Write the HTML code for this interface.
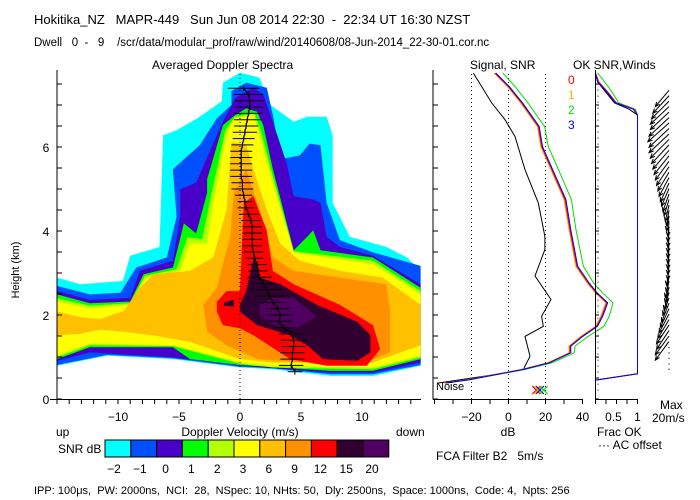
<!DOCTYPE html>
<html><head><meta charset="utf-8"><style>
html,body{margin:0;padding:0;background:#fff;}
svg{display:block;font-family:"Liberation Sans",sans-serif;}
text{font-size:12px;fill:#000;white-space:pre;}
</style></head><body>
<svg id="chart" width="700" height="500" viewBox="0 0 700 500" xml:space="preserve">
<text x="34" y="24" style="font-size:13px">Hokitika_NZ   MAPR-449   Sun Jun 08 2014 22:30  -  22:34 UT 16:30 NZST</text>
<text x="34" y="46" style="font-size:11.5px">Dwell   0  -   9    /scr/data/modular_prof/raw/wind/20140608/08-Jun-2014_22-30-01.cor.nc</text>
<text x="152" y="69">Averaged Doppler Spectra</text>
<text x="470" y="69">Signal, SNR</text>
<text x="573" y="69">OK SNR,Winds</text>
<g id="spectra"></g>
<g id="signal"></g>
<g id="frac"></g>
<g id="winds"></g>
<g id="axes"></g>
<text x="19" y="270" transform="rotate(-90 19 270)" text-anchor="middle" style="font-size:11px">Height (km)</text>
<text x="240" y="436" text-anchor="middle">Doppler Velocity (m/s)</text>
<text x="56" y="436">up</text>
<text x="396" y="436">down</text>
<text x="508" y="436" text-anchor="middle">dB</text>
<text x="597" y="436">Frac OK</text>
<text x="598" y="449">··· AC offset</text>
<text x="660" y="409">Max</text>
<text x="652" y="422">20m/s</text>
<text x="58" y="453">SNR dB</text>
<text x="436" y="460">FCA Filter B2   5m/s</text>
<text x="436" y="390" style="font-size:11px">Noise</text>
<text x="34" y="494" style="font-size:11px">IPP: 100μs,  PW: 2000ns,  NCI:  28,  NSpec: 10, NHts: 50,  Dly: 2500ns,  Space: 1000ns,  Code: 4,  Npts: 256</text>
<g id="colorbar"></g>
<text x="568" y="84" style="fill:#ff0000">0</text>
<text x="568" y="99" style="fill:#ffb000">1</text>
<text x="568" y="114" style="fill:#00e000">2</text>
<text x="568" y="129" style="fill:#0000ff">3</text>
</svg>
<script>
// ---------- data ----------
const levelNames = ["-2","-1","0","1","2","3","6","9","12","15","20"];
const levelColors = ["#00ffff","#0050ff","#4800c8","#00ff00","#b4ff00","#ffff00","#ffc000","#ff9000","#ff0000","#300030","#500060"];
const contourCyan = [[-15,0.79],[-15,2.89],[-13.1,2.73],[-9.6,2.81],[-9.0,3.41],[-6.6,3.62],[-6.3,6.28],[-5.2,6.40],[-3.5,6.68],[-1.5,7.09],[-1.4,7.53],[0,7.77],[1.6,7.65],[2.5,7.0],[4.4,6.60],[5.5,6.72],[7.1,6.72],[7.6,6.28],[7.6,4.67],[9.0,3.86],[12.0,3.62],[13.7,3.37],[14.8,3.05],[14.8,0.79],[10.9,0.55],[7.4,0.55],[2.7,0.71],[0,0.75],[-5.5,0.95],[-10.9,1.03],[-15,0.79]];
const contourBlue = [[-15,2.69],[-12.3,2.49],[-9.8,2.53],[-8.5,3.13],[-6.0,3.37],[-5.2,4.34],[-5.5,5.47],[-3.3,6.04],[-1.9,6.68],[-0.7,7.0],[-0.7,7.33],[0.5,7.53],[2.2,7.41],[2.7,6.76],[3.3,5.71],[4.9,5.80],[5.7,6.08],[6.6,6.04],[7.1,4.67],[8.2,3.78],[10.9,3.49],[14.8,3.17],[14.8,0.81],[10.9,0.59],[7.4,0.59],[2.7,0.73],[0,0.77],[-5.5,0.97],[-10.9,1.05],[-15,0.81]];
const contourIndigo = [[-15,2.57],[-12.3,2.36],[-9.0,2.41],[-8.2,3.05],[-5.5,3.29],[-4.9,4.34],[-4.9,4.99],[-3.6,5.15],[-2.5,5.88],[-1.4,6.60],[-0.8,6.92],[-0.4,7.17],[1.1,7.41],[1.9,7.25],[2.5,6.76],[3.8,5.63],[4.4,4.83],[6.0,4.75],[6.6,4.67],[7.1,3.86],[8.2,3.62],[10.9,3.41],[14.8,2.73],[14.8,0.87],[10.9,0.63],[7.4,0.63],[0,0.79],[-5.5,0.99],[-12.3,1.11],[-15,0.91]];
const contourGreen = [[-15,2.49],[-12.3,2.28],[-9.0,2.32],[-7.9,2.97],[-5.5,3.13],[-4.6,4.18],[-3.6,3.94],[-2.7,4.91],[-2.7,5.23],[-1.4,6.52],[-0.4,6.76],[0.5,6.92],[1.4,6.84],[1.9,6.52],[2.7,5.47],[4.4,3.54],[5.5,3.86],[6.0,4.02],[6.6,3.54],[10.9,3.37],[14.8,2.65],[14.8,0.95],[10.9,0.67],[7.4,0.67],[0,0.81],[-4.1,0.95],[-5.5,1.23],[-12.3,1.23],[-15,0.95]];
const contourLime = [[-15,2.40],[-12.3,2.22],[-9.0,2.28],[-7.8,2.93],[-5.2,3.09],[-4.3,3.85],[-3.1,3.80],[-2.4,4.80],[-1.2,6.40],[-0.4,6.72],[1.2,6.80],[1.7,6.40],[2.6,5.40],[4.4,3.52],[10.9,3.29],[14.8,2.57],[14.8,0.99],[10.9,0.71],[2.7,0.75],[0,0.84],[-5.5,1.26],[-12.3,1.28],[-15,0.99]];
const contourYellow = [[-15,2.32],[-12.3,2.16],[-9.0,2.24],[-7.7,2.89],[-4.9,3.05],[-4.1,3.70],[-2.7,3.70],[-2.2,4.67],[-1.1,6.28],[-0.5,6.68],[1.1,6.76],[1.6,6.28],[2.5,5.31],[4.4,3.49],[10.9,3.21],[14.8,2.49],[14.8,1.03],[10.9,0.75],[2.7,0.79],[0,0.87],[-5.5,1.28],[-12.3,1.32],[-15,1.03]];
const contourGold = [[-15,2.08],[-13.1,1.95],[-11.5,1.90],[-9.5,2.10],[-8.2,2.65],[-7.1,2.97],[-4.1,3.05],[-2.2,3.37],[-1.1,4.50],[-0.7,6.12],[0.5,6.04],[1.1,5.47],[2.2,4.50],[3.3,3.70],[4.9,3.29],[8.2,3.05],[11.7,2.89],[14.8,2.24],[14.8,1.28],[10.9,0.87],[2.7,0.87],[0,0.95],[-4.1,1.36],[-6.8,1.50],[-9.5,1.60],[-11.5,1.65],[-13.1,1.55],[-15,1.52]];
const contourOrange = [[-3.0,2.24],[-1.9,2.65],[-0.8,3.86],[-0.5,4.91],[0.5,5.47],[1.6,4.50],[2.7,3.37],[4.4,3.05],[8.2,2.89],[12.0,2.73],[12.3,2.08],[12.3,1.11],[9.6,0.79],[5.5,0.87],[1.4,0.95],[-1.1,1.28],[-2.7,1.60]];
const contourRed = [[-1.9,2.32],[-1.1,2.57],[0,2.57],[0.3,4.67],[1.1,4.83],[2.2,4.02],[2.7,3.05],[4.4,2.73],[8.2,2.24],[10.9,1.76],[11.5,1.19],[10.4,0.79],[7.1,0.79],[4.1,0.95],[1.1,1.52],[0,1.68],[-1.4,1.76],[-1.9,2.08]];
const contourDark = [[0,2.24],[0.5,2.57],[1.2,3.45],[1.6,2.89],[3.3,2.73],[6.3,2.24],[9.6,1.84],[10.7,1.52],[10.7,1.11],[9.6,0.91],[6.8,0.95],[5.5,1.28],[4.1,1.52],[1.4,1.76],[0,2.08]];
const contourDarkBlob = [[-1.3,2.30],[-0.5,2.36],[-0.5,2.20],[-1.3,2.22]];
const contourPurple = [[1.6,2.24],[2.7,2.41],[4.4,2.41],[6.3,1.96],[4.6,1.68],[2.7,1.76],[1.6,2.0]];
const contours = [contourCyan,contourBlue,contourIndigo,contourGreen,contourLime,contourYellow,contourGold,contourOrange,contourRed,contourDark,contourDarkBlob,contourPurple];
const contourLevel = [0,1,2,3,4,5,6,7,8,9,9,10];

const heights = [0.65,0.80,0.95,1.10,1.25,1.40,1.55,1.70,1.85,2.00,2.15,2.30,2.45,2.60,2.75,2.90,3.05,3.20,3.35,3.50,3.65,3.80,3.95,4.10,4.25,4.40,4.55,4.70,4.85,5.00,5.15,5.30,5.45,5.60,5.75,5.90,6.05,6.20,6.35,6.50,6.65,6.80,6.95,7.10,7.25,7.40];
const meanVel = [4.5,4.2,4.3,4.3,4.4,4.4,4.2,3.6,3.2,3.3,3.1,2.7,2.4,2.2,1.9,1.6,1.5,1.4,1.2,1.1,1.0,1.0,1.0,1.0,0.9,0.7,0.5,0.4,0.3,0.2,0.2,0.1,0.1,0.1,0.1,0.1,0.2,0.3,0.4,0.5,0.6,0.7,0.8,0.8,0.7,0.3];
const halfWidth = [0.6,1.0,1.0,1.0,1.0,1.1,1.0,1.0,1.0,1.1,1.0,1.0,1.2,1.3,1.0,1.0,0.8,0.8,0.7,0.8,0.8,0.8,0.8,0.8,0.8,0.8,0.7,0.6,0.7,0.9,0.9,0.9,0.9,0.9,0.9,0.9,0.9,0.9,1.0,1.0,1.1,1.2,1.2,1.2,1.2,1.3];

const sigHeightsBlack = [7.76,7.05,6.65,6.25,5.46,4.67,3.87,3.56,2.93,2.37,1.97,1.73,1.49,1.02,0.70,0.55,0.38];
const sigBlack = [-19.0,-9.1,-1.9,3.5,8.9,16.1,19.7,19.7,14.3,23.0,17.9,18.8,8.9,11.6,8.0,-12,-37.9];
const sigHeights = [7.76,7.44,7.05,6.49,6.01,5.46,4.75,4.03,3.16,2.76,2.52,2.29,1.97,1.73,1.49,1.26,1.10,0.86,0.70,0.46,0.38];
const sigCh0 = [-7.3,-0.1,7.1,16.1,17.9,23.4,30.5,33.2,36.9,43.1,47.6,53.1,50.4,47.6,39.6,33.2,33.2,21.5,7.1,-21.7,-34.3];
const sigCh1 = [-7.8,-0.6,6.6,15.6,17.4,22.9,30.0,32.7,36.4,42.6,47.1,52.6,49.9,47.1,39.1,32.7,32.7,21.0,6.6,-22.2,-34.8];
const sigCh2 = [-3.0,3.5,10.5,19.5,21.5,27.0,34.0,36.5,40.5,46.0,51.0,56.5,54.5,51.5,43.0,36.0,35.5,23.5,8.5,-21.0,-33.0];
const sigCh3 = [-6.8,0.4,7.6,16.6,18.4,23.9,31.0,33.7,37.4,43.6,48.1,53.6,50.9,48.1,40.1,33.7,33.7,22.0,7.6,-21.2,-33.8];

const fracHeights = [7.76,7.55,7.30,7.05,6.90,6.76,0.60,0.45];
const fracBlack = [0,0.05,0.25,0.45,0.80,1.0,1.0,0];
const fracCh0 = [0,0.08,0.30,0.50,0.92,1.0,1.0,0];
const fracCh2 = [0.05,0.22,0.40,0.55,0.95,1.0,1.0,0];
const fracCh3 = [0,0.05,0.28,0.48,0.90,1.0,1.0,0];

const windHeights = [7.35,7.22,7.09,6.96,6.83,6.70,6.57,6.44,6.31,6.18,6.05,5.92,5.79,5.66,5.53,5.40,5.27,5.14,5.01,4.88,4.75,4.62,4.49,4.36,4.23,4.10,3.97,3.84,3.71,3.58,3.45,3.32,3.19,3.06,2.93,2.80,2.67,2.54,2.41,2.28,2.15,2.02,1.89,1.76,1.63,1.50,1.37];
const windU = [-11,-13,-14,-15,-15,-16,-17,-16,-16,-15,-14,-13,-12,-11,-10,-9,-8,-7,-6,-5,-4,-3,-2,-2,-1,-1,-1,-1,-1,-1,-1,-1,-1,-2,-2,-3,-3,-4,-5,-6,-7,-8,-9,-10,-10,-11,-11];
const windV = [-13,-14,-14,-14,-14,-15,-15,-15,-15,-15,-15,-15,-15,-15,-15,-15,-15,-15,-14,-14,-13,-13,-12,-12,-12,-12,-12,-12,-12,-12,-12,-12,-12,-12,-13,-13,-13,-14,-14,-15,-15,-15,-15,-15,-15,-15,-15];
const calmHeights = [1.24,1.11,0.98,0.85,0.72];

const velTicks = [-10,-5,0,5,10];
const heightTicks = [0,2,4,6];
const dbTicks = [-20,0,20,40];
const fracTickLabels = ["0.5","1"];
const fracTickValues = [0.5,1];

// ---------- scales ----------
const xv = v => 240 + 12.2*v;
const yh = h => 399 - 42*h;
const xd = d => 508.5 + 1.85*d;
const xf = f => 595.5 + 42*f;
const NS = "http://www.w3.org/2000/svg";
function mk(tag, attrs, parent){const e=document.createElementNS(NS,tag);for(const k in attrs)e.setAttribute(k,attrs[k]);parent.appendChild(e);return e;}

// ---------- spectra ----------
const gS = document.getElementById('spectra');
const clip = mk('clipPath',{id:'clipS'},gS); mk('rect',{x:57,y:60,width:364,height:339},clip);
const gC = mk('g',{'clip-path':'url(#clipS)'},gS);
contours.forEach((poly,i)=>{
  const p = mk('polygon',{points:poly.map(q=>xv(q[0]).toFixed(1)+','+yh(q[1]).toFixed(1)).join(' '),fill:levelColors[contourLevel[i]]},gC);
  
  
});
const zl = mk('line',{x1:xv(0),x2:xv(0),y1:yh(0),y2:yh(7.8),stroke:'#000','stroke-dasharray':'1 3','stroke-width':1},gS);


let meanPts=[];
heights.forEach((h,i)=>{
  const y=yh(h), x=xv(meanVel[i]);
  const b = mk('line',{x1:xv(meanVel[i]-halfWidth[i]),x2:xv(meanVel[i]+halfWidth[i]),y1:y,y2:y,stroke:'#000','stroke-width':1},gS);
  
  
  const t = mk('line',{x1:x,x2:x,y1:y-3,y2:y+3,stroke:'#000','stroke-width':1},gS);
  
  
  meanPts.push(x.toFixed(1)+','+y.toFixed(1));
});
const ml = mk('polyline',{points:meanPts.join(' '),fill:'none',stroke:'#000','stroke-width':1},gS);



// ---------- signal ----------
const gG = document.getElementById('signal');
[-20,0,20].forEach(d=>{
  const l=mk('line',{x1:xd(d),x2:xd(d),y1:yh(0),y2:yh(7.8),stroke:'#000','stroke-dasharray':'1 3'},gG);
  
  
});
function sigLine(hs,vals,color,name){
  const p=mk('polyline',{points:hs.map((h,i)=>xd(vals[i]).toFixed(1)+','+yh(h).toFixed(1)).join(' '),fill:'none',stroke:color,'stroke-width':1},gG);
  
  
}
sigLine(sigHeightsBlack,sigBlack,'#000','noise-line');
sigLine(sigHeights,sigCh2,'#00e000','signal-ch2');
sigLine(sigHeights,sigCh1,'#ffb000','signal-ch1');
sigLine(sigHeights,sigCh0,'#ff0000','signal-ch0');
sigLine(sigHeights,sigCh3,'#0000ff','signal-ch3');
[['#ff0000',15],['#ffb000',16],['#0000ff',17],['#00e000',19]].forEach(c=>{
  const x=xd(c[1]), y=390;
  const g=mk('path',{d:`M${x-4},${y-4}L${x+4},${y+4}M${x+4},${y-4}L${x-4},${y+4}`,stroke:c[0],'stroke-width':1.2},gG);
  
  
});

// ---------- frac ----------
const gF = document.getElementById('frac');
const ac = mk('line',{x1:598,x2:598,y1:yh(0.2),y2:yh(7.5),stroke:'#000','stroke-dasharray':'1 5'},gF);


function fracLine(vals,color,name){
  const p=mk('polyline',{points:fracHeights.map((h,i)=>xf(vals[i]).toFixed(1)+','+yh(h).toFixed(1)).join(' '),fill:'none',stroke:color,'stroke-width':1},gF);
  
  
}
fracLine(fracBlack,'#000','frac-ok-black');
fracLine(fracCh2,'#00e000','frac-ok-ch2');
fracLine(fracCh0,'#ff0000','frac-ok-ch0');
fracLine(fracCh3,'#0000ff','frac-ok-ch3');

// ---------- winds ----------
const gW = document.getElementById('winds');
windHeights.forEach((h,i)=>{
  const x0=669,y0=yh(h),x1=x0+1.25*windU[i],y1=y0-1.25*windV[i];
  const a=Math.atan2(y1-y0,x1-x0);
  const hx1=x1-5*Math.cos(a-0.4),hy1=y1-5*Math.sin(a-0.4),hx2=x1-5*Math.cos(a+0.4),hy2=y1-5*Math.sin(a+0.4);
  const p=mk('path',{d:`M${x0},${y0}L${x1.toFixed(1)},${y1.toFixed(1)}M${hx1.toFixed(1)},${hy1.toFixed(1)}L${x1.toFixed(1)},${y1.toFixed(1)}L${hx2.toFixed(1)},${hy2.toFixed(1)}`,stroke:'#000',fill:'none','stroke-width':1},gW);
  
  
});
calmHeights.forEach(h=>{
  const d=mk('rect',{x:668.5,y:yh(h),width:1,height:1.2,fill:'#000'},gW);
  
  
});

// ---------- axes ----------
const gA = document.getElementById('axes');
function ln(x1,y1,x2,y2,name){const l=mk('line',{x1,y1,x2,y2,stroke:'#000','stroke-width':1},gA);}
function tx(x,y,s,name,anchor){const t=mk('text',{x,y,'text-anchor':anchor||'middle'},gA);t.textContent=s;}
ln(57,70,57,399.5,'spectra-y-axis'); ln(50,399.5,421,399.5,'spectra-x-axis');
ln(433,70,433,399.5,'signal-y-axis'); ln(433,399.5,583,399.5,'signal-x-axis');
ln(595.5,70,595.5,399.5,'frac-y-axis'); ln(595.5,399.5,638,399.5,'frac-x-axis');
for(let k=0;k<=15;k++){const y=yh(k*0.5);ln(57,y,62,y,'height-tick');ln(433,y,438,y,'height-tick');ln(595.5,y,599,y,'height-tick');}
heightTicks.forEach(h=>tx(46,yh(h)+5,String(h),'height-tick-label'));
for(let v=-15;v<=14;v++){ln(xv(v),399.5,xv(v),404,'velocity-tick');}
velTicks.forEach(v=>tx(xv(v),421,String(v).replace('-','−'),'velocity-tick-label'));
for(let d=-40;d<=40;d+=10){ln(xd(d),399.5,xd(d),404,'db-tick');}
dbTicks.forEach(d=>tx(xd(d),421,String(d).replace('-','−'),'db-tick-label'));
for(let f=0;f<=1.001;f+=0.25){ln(xf(f),399.5,xf(f),404,'frac-tick');}
fracTickValues.forEach((f,i)=>tx(xf(f)-(i?0:3),421,fracTickLabels[i],'frac-tick-label'));

// ---------- colorbar ----------
const gB = document.getElementById('colorbar');
levelColors.forEach((c,i)=>{
  const r=mk('rect',{x:105+i*25.8,y:440,width:25.8,height:17,fill:c,stroke:'#000','stroke-width':1},gB);
  
  
  const t=mk('text',{x:114+i*25.8,y:473,'text-anchor':'middle'},gB);
  t.textContent=levelNames[i].replace('-','−');
  
  
});
</script>
</body></html>
